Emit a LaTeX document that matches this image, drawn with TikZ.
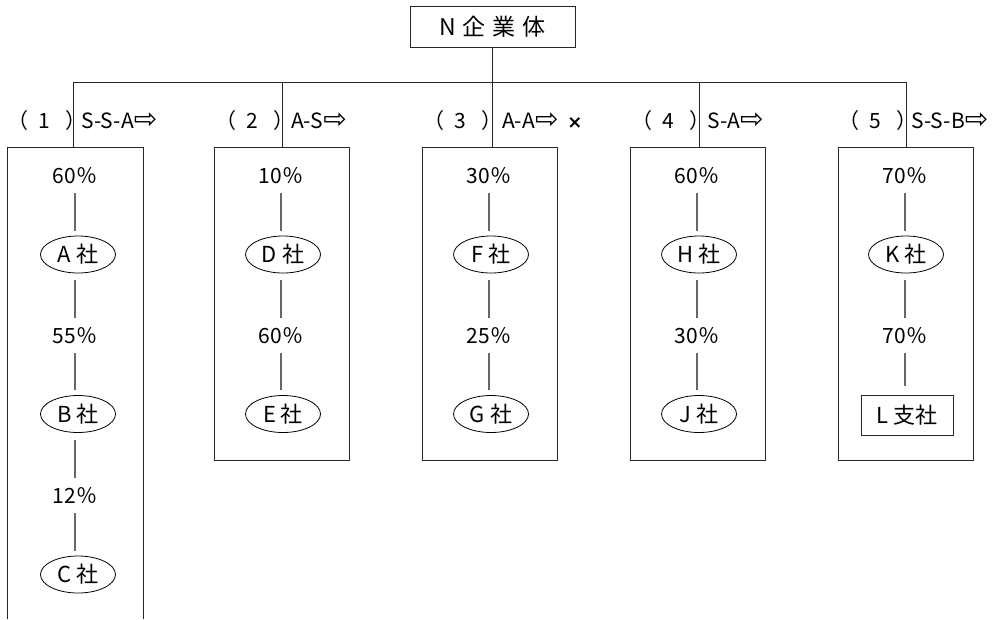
\documentclass[tikz,border=0pt]{standalone}
\usepackage{fontspec}
\setmainfont{Noto Sans CJK JP}
\newfontfamily\arrfont{DejaVu Sans}
\usetikzlibrary{shapes.geometric}
\newcommand{\warr}{{\arrfont\fontsize{28}{24}\selectfont ⇨}}
\begin{document}
\begin{tikzpicture}[x=1pt,y=-1pt,
  every node/.style={font=\fontsize{21}{24}\selectfont, inner sep=0pt},
  frame/.style={draw=black!85, line width=1pt},
  conn/.style={draw=black!60, line width=1.1pt},
  pct/.style={minimum height=34pt},
  co/.style={ellipse, draw=black, line width=0.8pt, minimum width=75pt, minimum height=37pt, font=\fontsize{22}{24}\selectfont},
  sub/.style={draw=black!85, line width=1pt, minimum width=92pt, minimum height=40pt, font=\fontsize{22}{24}\selectfont},
  col/.style={minimum width=135pt, minimum height=313pt, anchor=north west},
  lab/.style={anchor=east},
  rlab/.style={anchor=west}
]
\useasboundingbox (0,0) rectangle (1000,619);

% top node
\node[frame, minimum width=165pt, minimum height=41pt, font=\fontsize{23}{27}\selectfont] (top) at (492.5,26.5) {N\hspace{7pt}企\hspace{7pt}業\hspace{7pt}体};

% junction coordinates
\coordinate (h1) at (73,82);
\coordinate (h2) at (282,82);
\coordinate (h3) at (492,82);
\coordinate (h4) at (699,82);
\coordinate (h5) at (906,82);
\draw[frame] (h1) -- (h5);
\draw[frame] (top.south) -- (top.south |- h3);

% column boxes
\node[col, minimum width=136pt, minimum height=472pt] (box1) at (7,147) {};
\draw[frame] (box1.south west) -- (box1.north west) -- (box1.north east) -- (box1.south east);
\node[col, frame] (box2) at (214,147) {};
\node[col, frame] (box3) at (422,147) {};
\node[col, frame] (box4) at (630,147) {};
\node[col, frame] (box5) at (838,147) {};

\foreach \i in {1,...,5} {\draw[frame] (h\i) -- (h\i |- box\i.north);}

% labels
\node[lab] (l1) at (87,121) {（\hspace{10pt}1\hspace{16pt}）};
\node[rlab] (r1) at (81,121) {S-S-A\warr};
\node[lab] (l2) at (295,121) {（\hspace{10pt}2\hspace{16pt}）};
\node[rlab] (r2) at (291,121) {A-S\warr};
\node[lab] (l3) at (503,121) {（\hspace{10pt}3\hspace{16pt}）};
\node[rlab] (r3) at (502,121) {A-A\warr\hspace{9pt}{\arrfont\bfseries\fontsize{18}{16}\selectfont ×}};
\node[lab] (l4) at (711,121) {（\hspace{10pt}4\hspace{16pt}）};
\node[rlab] (r4) at (707,121) {S-A\warr};
\node[lab] (l5) at (918,121) {（\hspace{10pt}5\hspace{16pt}）};
\node[rlab] (r5) at (911,121) {S-S-B\warr};

% column 1
\node[pct] (p11) at (75,176) {60％};
\node[co]  (c11) at (78,254.5) {A 社};
\node[pct] (p12) at (75,336) {55％};
\node[co]  (c12) at (78,414) {B 社};
\node[pct] (p13) at (75,496) {12％};
\node[co]  (c13) at (78,574.5) {C 社};
% column 2
\node[pct] (p21) at (281,176) {10％};
\node[co]  (c21) at (283,254.5) {D 社};
\node[pct] (p22) at (281,336) {60％};
\node[co]  (c22) at (283,414) {E 社};
% column 3
\node[pct] (p31) at (489,176) {30％};
\node[co]  (c31) at (491,254.5) {F 社};
\node[pct] (p32) at (489,336) {25％};
\node[co]  (c32) at (491,414) {G 社};
% column 4
\node[pct] (p41) at (697,176) {60％};
\node[co]  (c41) at (699,254.5) {H 社};
\node[pct] (p42) at (697,336) {30％};
\node[co]  (c42) at (699,414) {J 社};
% column 5
\node[pct] (p51) at (905,176) {70％};
\node[co]  (c51) at (906,254.5) {K 社};
\node[pct] (p52) at (905,336) {70％};
\node[sub] (c52) at (907,415) {L 支社};

% connectors
\foreach \c/\r/\s in {1/1/2, 1/2/3, 2/1/2, 3/1/2, 4/1/2, 5/1/2} {
  \draw[conn, shorten >=5pt] (p\c\r.south) -- (p\c\r.south |- c\c\r.north);
  \draw[conn, shorten <=7pt, shorten >=1pt] (p\c\r.south |- c\c\r.south) -- (p\c\s.north);
}
\foreach \c/\r in {1/3, 2/2, 3/2, 4/2} {
  \draw[conn, shorten >=5pt] (p\c\r.south) -- (p\c\r.south |- c\c\r.north);
}
\draw[conn, shorten >=9pt] (p52.south) -- (p52.south |- c52.north);
\end{tikzpicture}
\end{document}
